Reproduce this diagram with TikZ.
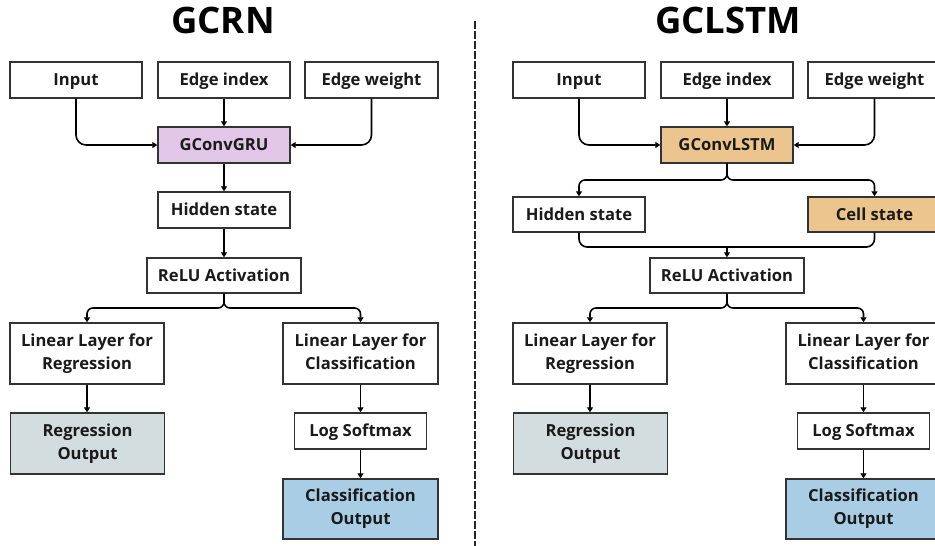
\documentclass[tikz,border=0pt]{standalone}
\usepackage{fontspec}
\setmainfont{Open Sans}
\usetikzlibrary{arrows.meta}
\definecolor{boxline}{HTML}{333333}
\definecolor{txt}{HTML}{1A1A1A}
\definecolor{cpurple}{HTML}{E1C6E8}
\definecolor{ctan}{HTML}{EBC48E}
\definecolor{cgray}{HTML}{D3DCDF}
\definecolor{cblue}{HTML}{A8CDE4}
\tikzset{
  box/.style={draw=boxline, line width=1.4pt, fill=white, inner sep=0pt, align=center,
    text=txt, font=\fontsize{16.6}{23}\selectfont\bfseries, text depth=0pt},
  one/.style={box, text height=11.9pt, minimum height=36pt},
  two/.style={box, text depth=4pt, minimum height=61pt},
  conn/.style={draw=black, line width=1.6pt, -{Triangle[length=5pt,width=6pt]}},
  link/.style={draw=black, line width=1.6pt},
  ttl/.style={text=black, font=\fontsize{36.5}{40}\selectfont\bfseries, anchor=base, inner sep=0pt},
}
\begin{document}
\begin{tikzpicture}[x=1pt,y=-1pt]
\useasboundingbox (0,0) rectangle (935,546);
\clip (0,0) rectangle (935,546);
\fill[white] (0,0) rectangle (935,546);
% titles
\node[ttl] (t1) at (223,33) {GCRN};
\node[ttl] (t2) at (728,33) {GCLSTM};
% divider
\coordinate (d1) at (475,21);
\coordinate (d2) at (475,546);
\draw[line width=2.4pt, dash pattern=on 7.5pt off 2.5pt, color=black!85] (d1) -- (d2);

% ---------- left panel ----------
\node[one, minimum width=132pt] (in1) at (76,80) {Input};
\node[one, minimum width=132pt] (ei1) at (224,80) {Edge index};
\node[one, minimum width=133pt] (ew1) at (371.5,80) {Edge weight};
\node[one, fill=cpurple, minimum width=132pt] (gc1) at (224,145) {GConvGRU};
\node[one, minimum width=132pt] (hs1) at (224,210) {Hidden state};
\node[one, minimum width=154pt, minimum height=35pt] (re1) at (224,275.5) {ReLU Activation};
\node[two, minimum width=154pt] (lr1) at (87,353.5) {Linear Layer for\\Regression};
\node[two, minimum width=155pt] (lc1) at (360.5,353.5) {Linear Layer for\\Classification};
\node[two, fill=cgray, minimum width=154pt] (ro1) at (87.5,443.5) {Regression\\Output};
\node[one, minimum width=132pt] (ls1) at (360.5,431) {Log Softmax};
\node[two, fill=cblue, minimum width=155pt, minimum height=60pt] (co1) at (360.5,509) {Classification\\Output};

\draw[conn, rounded corners=10pt] (in1.south) |- (gc1.west);
\draw[conn] (ei1.south) -- (gc1.north);
\draw[conn, rounded corners=10pt] (ew1.south) |- (gc1.east);
\draw[conn] (gc1.south) -- (hs1.north);
\draw[conn] (hs1.south) -- (re1.north);
\coordinate (s1) at (224,308);
\draw[conn, rounded corners=6pt] (re1.south) -- (s1) -| (lr1.north);
\draw[conn, rounded corners=6pt] (re1.south) -- (s1) -| (lc1.north);
\draw[conn] (lr1.south) -- (ro1.north -| lr1.south);
\draw[conn] (lc1.south) -- (ls1.north);
\draw[conn] (ls1.south) -- (co1.north);

% ---------- right panel ----------
\node[one, minimum width=132pt] (in2) at (579,80) {Input};
\node[one, minimum width=132pt] (ei2) at (727,80) {Edge index};
\node[one, minimum width=133pt] (ew2) at (874.5,80) {Edge weight};
\node[one, fill=ctan, minimum width=132pt] (gc2) at (727,145) {GConvLSTM};
\node[one, minimum width=132pt, minimum height=35pt] (hs2) at (579,214.5) {Hidden state};
\node[one, fill=ctan, minimum width=133pt, minimum height=35pt] (cs2) at (874.5,214.5) {Cell state};
\node[one, minimum width=154pt, minimum height=35pt] (re2) at (727,275.5) {ReLU Activation};
\node[two, minimum width=154pt] (lr2) at (590,353.5) {Linear Layer for\\Regression};
\node[two, minimum width=155pt] (lc2) at (863.5,353.5) {Linear Layer for\\Classification};
\node[two, fill=cgray, minimum width=154pt] (ro2) at (590.5,443.5) {Regression\\Output};
\node[one, minimum width=132pt] (ls2) at (863.5,431) {Log Softmax};
\node[two, fill=cblue, minimum width=155pt, minimum height=60pt] (co2) at (863.5,509) {Classification\\Output};

\draw[conn, rounded corners=10pt] (in2.south) |- (gc2.west);
\draw[conn] (ei2.south) -- (gc2.north);
\draw[conn, rounded corners=10pt] (ew2.south) |- (gc2.east);
\coordinate (s2) at (727,180);
\draw[conn, rounded corners=6pt] (gc2.south) -- (s2) -| (hs2.north);
\draw[conn, rounded corners=6pt] (gc2.south) -- (s2) -| (cs2.north);
\coordinate (m2) at (727,247);
\draw[link, rounded corners=8pt] (hs2.south) |- (m2);
\draw[link, rounded corners=8pt] (cs2.south) |- (m2);
\draw[conn] (m2) -- (re2.north);
\coordinate (s3) at (727,308);
\draw[conn, rounded corners=6pt] (re2.south) -- (s3) -| (lr2.north);
\draw[conn, rounded corners=6pt] (re2.south) -- (s3) -| (lc2.north);
\draw[conn] (lr2.south) -- (ro2.north -| lr2.south);
\draw[conn] (lc2.south) -- (ls2.north);
\draw[conn] (ls2.south) -- (co2.north);
\end{tikzpicture}
\end{document}
